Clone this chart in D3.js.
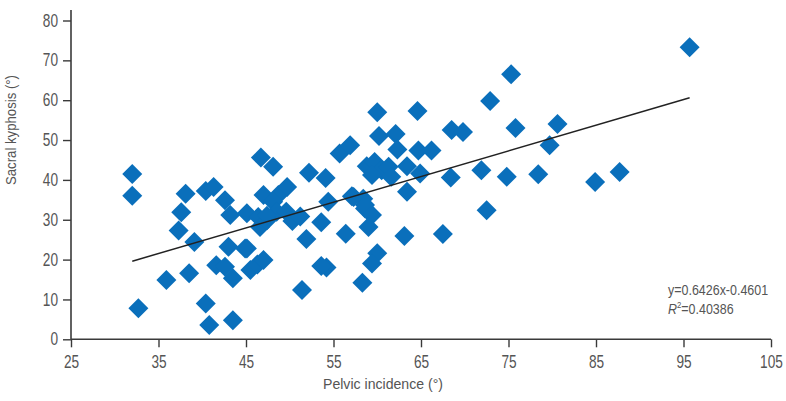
<!DOCTYPE html>
<html>
<head>
<meta charset="utf-8">
<script src="https://cdn.jsdelivr.net/npm/d3@7"></script>
<style>
  html, body { margin: 0; padding: 0; background: #fff; }
  svg text { font-family: "Liberation Sans", Arial, sans-serif; fill: #555; }
</style>
</head>
<body>
<svg id="chart" width="786" height="401"></svg>
<script>
// Pelvic incidence (°) values
const pelvicIncidence = [
  32.0, 32.0, 32.7, 35.9, 37.3, 37.6, 38.1, 38.5, 39.1, 40.4,
  41.3, 40.4, 40.8, 42.6, 43.2, 43.0, 41.6, 42.6, 43.5, 43.5,
  44.9, 45.1, 45.5, 46.3, 46.7, 48.1, 47.0, 48.7, 48.1, 46.4,
  46.6, 47.4, 48.5, 49.6, 49.7, 47.0, 50.3, 51.2, 51.4, 51.9,
  52.2, 53.6, 54.1, 54.4, 54.2, 55.7, 56.4, 56.9, 57.1, 58.4,
  58.6, 58.6, 59.4, 59.0, 58.8, 59.7, 60.5, 61.3, 59.4, 61.6,
  60.0, 60.2, 62.1, 62.3, 60.0, 59.4, 58.3, 63.4, 64.9, 64.6,
  64.7, 66.2, 63.4, 63.1, 67.5, 68.4, 68.5, 69.8, 71.9, 72.5,
  72.9, 74.8, 75.3, 75.8, 78.4, 79.7, 80.6, 84.9, 87.7, 95.7,
  45.1, 47.4, 53.6, 57.3
];
// Sacral kyphosis (°) values
const sacralKyphosis = [
  41.5, 36.0, 7.8, 14.9, 27.3, 31.9, 36.5, 16.6, 24.4, 37.2,
  38.2, 9.0, 3.6, 34.9, 31.2, 23.2, 18.6, 18.2, 15.3, 4.8,
  22.8, 31.6, 17.4, 18.8, 45.6, 43.3, 36.2, 36.2, 34.5, 30.7,
  28.2, 29.9, 32.0, 32.0, 38.2, 19.9, 29.7, 30.8, 12.4, 25.2,
  41.8, 29.4, 40.5, 34.5, 18.0, 46.6, 26.5, 48.7, 35.9, 35.3,
  32.8, 33.7, 31.2, 28.2, 43.4, 44.5, 42.4, 43.3, 41.2, 40.8,
  57.0, 51.0, 51.5, 47.6, 21.6, 19.0, 14.2, 43.4, 41.6, 57.3,
  47.4, 47.4, 37.0, 25.9, 26.4, 40.6, 52.5, 52.0, 42.4, 32.4,
  59.8, 40.8, 66.5, 53.0, 41.4, 48.7, 54.0, 39.5, 42.0, 73.3,
  22.8, 31.0, 18.4, 35.7
];
// Trend line end points
const trendX = [32.0, 95.7];
const trendY = [19.6, 60.6];
const xTicks = [25, 35, 45, 55, 65, 75, 85, 95, 105];
const yTicks = [0, 10, 20, 30, 40, 50, 60, 70, 80];
const equationLines = ["y=0.6426x-0.4601", "=0.40386"];
const xTitle = "Pelvic incidence (°)";
const yTitle = "Sacral kyphosis (°)";

const svg = d3.select("#chart");
const x = d3.scaleLinear().domain([25, 105]).range([71, 771]);
const y = d3.scaleLinear().domain([0, 80]).range([339.3, 20.5]);

const axisColor = "#3a3a3a";
const condense = 0.78;

function condenseTicks(g) {
  g.selectAll(".tick text").each(function () {
    const t = d3.select(this);
    const x0 = +t.attr("x") || 0;
    t.attr("x", 0).attr("transform", `translate(${x0},0) scale(${condense},1)`);
  });
}

// Y axis
const yAxisG = svg.append("g").attr("transform", `translate(${x(25)},0)`)
  .call(d3.axisLeft(y).tickValues(yTicks).tickSize(8).tickPadding(5).tickFormat(d3.format("d")));
yAxisG.select(".domain").remove();
yAxisG.append("line").attr("x1", 0).attr("x2", 0).attr("y1", 10).attr("y2", y(0))
  .attr("stroke", axisColor).attr("stroke-width", 1.6);
yAxisG.selectAll(".tick line").attr("stroke", axisColor).attr("stroke-width", 1.4);
yAxisG.selectAll(".tick text").attr("font-size", 17.5).attr("fill", "#555")
  .attr("font-family", '"Liberation Sans", Arial, sans-serif');
condenseTicks(yAxisG);

// X axis
const xAxisG = svg.append("g").attr("transform", `translate(0,${y(0)})`)
  .call(d3.axisBottom(x).tickValues(xTicks).tickSize(8).tickPadding(8).tickFormat(d3.format("d")));
xAxisG.select(".domain").remove();
xAxisG.append("line").attr("x1", x(25)).attr("x2", x(105)).attr("y1", 0).attr("y2", 0)
  .attr("stroke", axisColor).attr("stroke-width", 1.6);
xAxisG.selectAll(".tick line").attr("stroke", axisColor).attr("stroke-width", 1.4);
xAxisG.selectAll(".tick text").attr("font-size", 17.5).attr("fill", "#555")
  .attr("font-family", '"Liberation Sans", Arial, sans-serif');
condenseTicks(xAxisG);

// Points
const points = pelvicIncidence.map((v, i) => ({ x: v, y: sacralKyphosis[i] }));
const diamond = d3.symbol().type(d3.symbolSquare).size(200);
svg.append("g").selectAll("path").data(points).join("path")
  .attr("d", diamond)
  .attr("transform", d => `translate(${x(d.x)},${y(d.y)}) rotate(45)`)
  .attr("fill", "#0a6fbb");

// Trend line
svg.append("line")
  .attr("x1", x(trendX[0])).attr("y1", y(trendY[0]))
  .attr("x2", x(trendX[1])).attr("y2", y(trendY[1]))
  .attr("stroke", "#222").attr("stroke-width", 1.5);

// Equation
svg.append("text").attr("transform", "translate(668,295) scale(0.86,1)")
  .attr("font-size", 14.5).attr("fill", "#444")
  .text(equationLines[0]);
const r2 = svg.append("text").attr("transform", "translate(668,314) scale(0.86,1)")
  .attr("font-size", 14.5).attr("fill", "#444");
r2.append("tspan").attr("font-style", "italic").text("R");
r2.append("tspan").attr("font-size", 9).attr("dy", -6).text("2");
r2.append("tspan").attr("dy", 6).text(equationLines[1]);

// Titles
svg.append("text").attr("x", 383).attr("y", 389).attr("text-anchor", "middle")
  .attr("font-size", 15.5).attr("textLength", 120).attr("lengthAdjust", "spacingAndGlyphs")
  .text(xTitle);
svg.append("text").attr("transform", "translate(16,130) rotate(-90)")
  .attr("text-anchor", "middle").attr("font-size", 15.5)
  .attr("textLength", 110).attr("lengthAdjust", "spacingAndGlyphs")
  .text(yTitle);
</script>
</body>
</html>
